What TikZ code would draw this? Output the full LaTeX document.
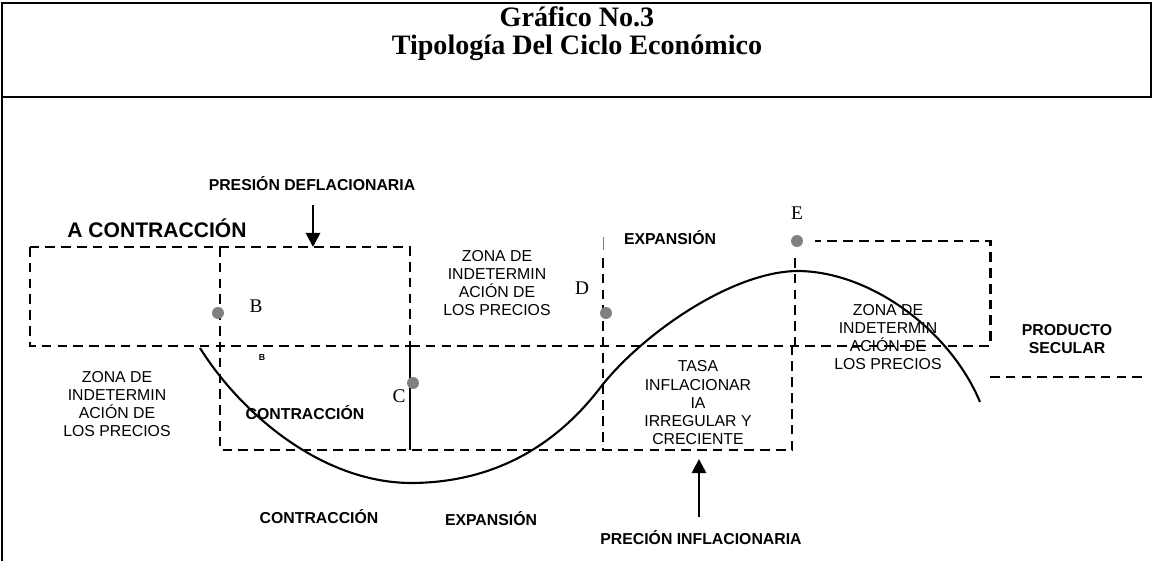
\documentclass[tikz,border=0pt]{standalone}
\usepackage{fontspec}
\setmainfont{Liberation Serif}
\setsansfont{Liberation Sans}
\usetikzlibrary{arrows.meta}
\definecolor{dotgray}{RGB}{128,128,128}
\tikzset{
  frame/.style   = {draw=black,line width=1.1pt},
  zone/.style    = {draw=black,line width=1.7pt,dash pattern=on 5.5pt off 3.5pt},
  thinline/.style= {draw=black,line width=0.8pt},
  cycle/.style   = {draw=black,line width=1.2pt},
  ttl/.style     = {font=\bfseries\fontsize{16}{19}\selectfont,inner sep=0pt},
  lbl/.style     = {font=\sffamily\fontsize{9}{10.4}\selectfont,align=center,inner sep=0pt},
  blbl/.style    = {font=\sffamily\bfseries\fontsize{9}{10.4}\selectfont,align=center,inner sep=0pt},
  ptlbl/.style   = {font=\fontsize{11}{12}\selectfont,inner sep=0pt},
  pt/.style      = {circle,fill=dotgray,inner sep=0pt,minimum size=6.8pt},
  arrow/.style   = {-{Triangle[width=8pt,length=8pt]},line width=1.6pt},
}

\begin{document}
\begin{tikzpicture}[x=0.02cm,y=-0.02cm]
  \useasboundingbox (0,0) rectangle (1154,561);
  % title frame
  \draw[frame] (2,561) -- (2,3) -- (1151,3) -- (1151,97) -- (2,97);
  \node[ttl] (title1) at (577,17) {Gráfico No.3};
  \node[ttl] (title2) at (577,48) {Tipología Del Ciclo Económico};

  % dashed zones
  \draw[zone] (30,247) rectangle (410,346);
  \draw[zone] (220,247) -- (220,450) -- (792,450) -- (792,346);
  \draw[zone] (410,346) -- (990,346) -- (990,241) -- (815,241);
  \draw[thinline] (410,346) -- (410,450);
  \draw[zone] (603,258) -- (603,450);
  \draw[draw=dotgray,line width=0.4pt] (603,237) -- (603,250);
  \draw[zone] (795,258) -- (795,346);
  \draw[zone] (990,377) -- (1146,377);

  % cycle
  \draw[cycle] (200,348) .. controls (240,412) and (320,482) .. (410,483)
    .. controls (500,483) and (560,440) .. (600,388)
    .. controls (640,336) and (730,272) .. (797,271)
    .. controls (870,271) and (950,330) .. (980,402);

  % points
  \node[pt] (ptB) at (218,313) {};
  \node[pt] (ptC) at (413,383) {};
  \node[pt] (ptD) at (606,313) {};
  \node[pt] (ptE) at (797,241) {};
  \node[ptlbl] (labB) at (256,306) {B};
  \node[ptlbl] (labC) at (399,396) {C};
  \node[ptlbl] (labD) at (582,288) {D};
  \node[ptlbl] (labE) at (797,213) {E};
  \node[font=\sffamily\bfseries\fontsize{5}{6}\selectfont,inner sep=0pt] (labb) at (262,357) {B};

  % labels
  \node[blbl] (deflab) at (312,184) {PRESIÓN DEFLACIONARIA};
  \node[blbl,font=\sffamily\bfseries\fontsize{12}{14}\selectfont] (acontr) at (157,228) {A CONTRACCIÓN};
  \node[lbl] (zone1) at (117,404) {ZONA DE\\INDETERMIN\\ACIÓN DE\\LOS PRECIOS};
  \node[blbl] (contr1) at (305,413) {CONTRACCIÓN};
  \node[lbl] (zone2) at (497,283) {ZONA DE\\INDETERMIN\\ACIÓN DE\\LOS PRECIOS};
  \node[blbl] (expan1) at (670,238) {EXPANSIÓN};
  \node[lbl] (tasa) at (698,403) {TASA\\INFLACIONAR\\IA\\IRREGULAR Y\\CRECIENTE};
  \node[lbl] (zone3) at (888,337) {ZONA DE\\INDETERMIN\\ACIÓN DE\\LOS PRECIOS};
  \node[blbl] (prod) at (1067,339) {PRODUCTO\\SECULAR};
  \node[blbl] (contr2) at (319,517) {CONTRACCIÓN};
  \node[blbl] (expan2) at (491,519) {EXPANSIÓN};
  \node[blbl] (preclab) at (701,538) {PRECIÓN INFLACIONARIA};

  % pressure arrows
  \coordinate (deftip) at (313,247);
  \coordinate (pretip) at (699,459);
  \draw[arrow,shorten <=8pt] (deflab.south -| deftip) -- (deftip);
  \draw[arrow,shorten <=8pt] (preclab.north -| pretip) -- (pretip);
\end{tikzpicture}
\end{document}
